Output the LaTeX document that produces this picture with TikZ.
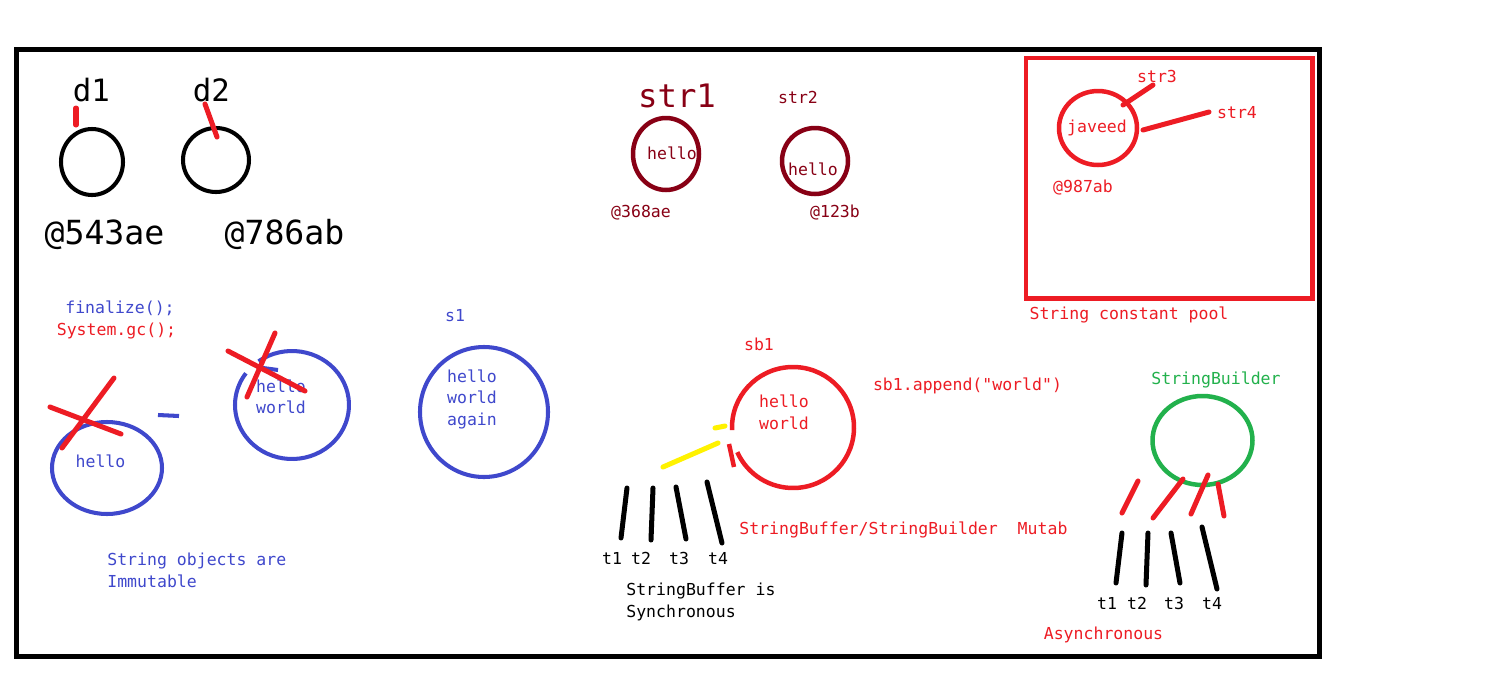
\documentclass[tikz,border=0pt]{standalone}
\usepackage{fontspec}
\setmonofont{DejaVu Sans Mono}
\usepackage{tikz}
\usetikzlibrary{calc}
\definecolor{PaintRed}{RGB}{237, 28, 36}
\definecolor{PaintDarkRed}{RGB}{136, 0, 21}
\definecolor{PaintBlue}{RGB}{63, 72, 204}
\definecolor{PaintGreen}{RGB}{34, 177, 76}
\definecolor{PaintYellow}{RGB}{255, 242, 0}
\tikzset{
  lbl/.style={font=\ttfamily\fontsize{9.4}{12.2}\selectfont, inner sep=0pt,
    anchor=base},
  leftlbl/.style={lbl, anchor=base west},
  biglbl/.style={font=\ttfamily\fontsize{18.9}{22}\selectfont, inner sep=0pt,
    anchor=base},
  ring/.style={line width=2.56pt},
  thinring/.style={line width=2.3pt},
  stroke/.style={line width=2.85pt, line cap=round},
}
\begin{document}
\begin{tikzpicture}[x=0.02cm, y=-0.02cm]
  \useasboundingbox (0,0) rectangle (1499,694);
  \fill[white] (0,0) rectangle (1499,694);
  % outer frame
  \draw[line width=2.85pt] (16.5,49.5) rectangle (1319.5,656.5);

  % d1 and d2
  \coordinate (d1obj) at (92,162);
  \coordinate (d2obj) at (216,160);
  \draw[thinring] (d1obj) ellipse [x radius=31, y radius=33];
  \draw[thinring] (d2obj) ellipse [x radius=33, y radius=32];
  \node[biglbl, font=\ttfamily\fontsize{17.5}{20}\selectfont] (d1) at (91.5,101) {d1};
  \node[biglbl, font=\ttfamily\fontsize{17.5}{20}\selectfont] (d2) at (211.5,101) {d2};
  \draw[stroke, PaintRed] (76,108) -- (76,125);
  \draw[stroke, PaintRed] (205,104) -- (217,137);
  \node[biglbl] (addr1) at (104.5,244) {@543ae};
  \node[biglbl] (addr2) at (284.5,244) {@786ab};

  % str1 and str2
  \coordinate (str1obj) at (666,154);
  \coordinate (str2obj) at (815,161);
  \draw[ring, PaintDarkRed] (str1obj) ellipse [x radius=33, y radius=36];
  \draw[ring, PaintDarkRed] (str2obj) ellipse [x radius=33, y radius=33];
  \node[biglbl, PaintDarkRed, font=\ttfamily\fontsize{18.4}{22}\selectfont]
    (str1) at (677,107) {str1};
  \node[lbl, PaintDarkRed] (str2) at (798,103) {str2};
  \node[lbl, PaintDarkRed] (val1) at (672,159) {hello};
  \node[lbl, PaintDarkRed] (val2) at (813,175) {hello};
  \node[lbl, PaintDarkRed] (addr3) at (641,217) {@368ae};
  \node[lbl, PaintDarkRed] (addr4) at (835,217) {@123b};

  % string constant pool
  \draw[PaintRed, line width=2.56pt] (1026,58) rectangle (1312.5,298.5);
  \coordinate (poolobj) at (1098,128);
  \draw[ring, PaintRed] (poolobj) ellipse [x radius=39, y radius=37];
  \node[lbl, PaintRed] (val3) at (1097,132) {javeed};
  \node[lbl, PaintRed] (str3) at (1157,82) {str3};
  \node[lbl, PaintRed] (str4) at (1237,118) {str4};
  \draw[stroke, PaintRed] (1153,85) -- (1123,105);
  \draw[stroke, PaintRed] (1209,112) -- (1143,130);
  \node[lbl, PaintRed] (addr5) at (1083,192) {@987ab};
  \node[lbl, PaintRed] (pool) at (1129,319) {String constant pool};

  % immutable strings
  \node[lbl, PaintBlue] (fin) at (120,313) {finalize();};
  \node[lbl, PaintRed] (gc) at (116.5,335) {System.gc();};
  \coordinate (hobj) at (107,468);
  \coordinate (hwobj) at (292,405);
  \coordinate (hwaobj) at (484,412);
  \draw[thinring, PaintBlue] (hobj) ellipse [x radius=55, y radius=46];
  \draw[thinring, PaintBlue] ($(hwobj)+(234:57 and 54)$)
    arc [start angle=234, end angle=576, x radius=57, y radius=54];
  \draw[thinring, PaintBlue] (263,368) -- (278,370);
  \draw[thinring, PaintBlue] (hwaobj) ellipse [x radius=64, y radius=65];
  \draw[thinring, PaintBlue] (158,415) -- (179,416);
  \node[lbl, PaintBlue] (hval) at (100.5,467) {hello};
  \node[lbl, PaintBlue] (hwval1) at (281,392) {hello};
  \node[lbl, PaintBlue] (hwval2) at (281,413) {world};
  \node[lbl, PaintBlue] (s1) at (455,321) {s1};
  \node[lbl, PaintBlue] (hwaval1) at (472,382) {hello};
  \node[lbl, PaintBlue] (hwaval2) at (472,403) {world};
  \node[lbl, PaintBlue] (hwaval3) at (472,425) {again};
  \draw[stroke, PaintRed] (50,407) -- (121,434);
  \draw[stroke, PaintRed] (114,378) -- (62,448);
  \draw[stroke, PaintRed] (228,351) -- (305,391);
  \draw[stroke, PaintRed] (275,333) -- (247,397);
  \node[leftlbl, PaintBlue] (imm1) at (107,565) {String objects are};
  \node[leftlbl, PaintBlue] (imm2) at (107,587) {Immutable};

  % StringBuffer
  \coordinate (sbobj) at (793,427.5);
  \draw[ring, PaintRed] ($(sbobj)+(177.6:61 and 60.5)$)
    arc [start angle=177.6, end angle=516, x radius=61, y radius=60.5];
  \draw[ring, PaintRed] (729,444) -- (734,467);
  \node[lbl, PaintRed] (sb1) at (759,350) {sb1};
  \node[lbl, PaintRed] (sbval1) at (784,407) {hello};
  \node[lbl, PaintRed] (sbval2) at (784,429) {world};
  \node[lbl, PaintRed] (append) at (967.5,390) {sb1.append("world")};
  \draw[stroke, PaintYellow] (663,467) -- (718,443);
  \draw[stroke, PaintYellow] (715,428) -- (725,426);
  \foreach \xa/\ya/\xb/\yb in {627/488/621/538, 653/488/651/540,
                              676/487/686/539, 707/482/722/543}
    \draw[stroke] (\xa,\ya) -- (\xb,\yb);
  \foreach \x [count=\i] in {612, 641, 679, 718}
    \node[lbl] (bt\i) at (\x,564) {t\i};
  \node[leftlbl, PaintRed] (mut) at (739,534) {StringBuffer/StringBuilder\ \ Mutab};
  \node[leftlbl] (sync1) at (626,595) {StringBuffer is};
  \node[leftlbl] (sync2) at (626,617) {Synchronous};

  % StringBuilder
  \coordinate (sbdobj) at (1202.5,440.5);
  \draw[ring, PaintGreen] (sbdobj) ellipse [x radius=50, y radius=44.5];
  \node[lbl, PaintGreen] (sbd) at (1216,384) {StringBuilder};
  \foreach \xa/\ya/\xb/\yb in {1138/481/1122/513, 1183/479/1153/518,
                              1208/475/1191/514, 1218/484/1224/516}
    \draw[stroke, PaintRed] (\xa,\ya) -- (\xb,\yb);
  \foreach \xa/\ya/\xb/\yb in {1122/533/1116/583, 1148/533/1146/585,
                              1171/533/1180/583, 1202/527/1217/589}
    \draw[stroke] (\xa,\ya) -- (\xb,\yb);
  \foreach \x [count=\i] in {1107, 1137, 1174, 1212}
    \node[lbl] (at\i) at (\x,609) {t\i};
  \node[lbl, PaintRed] (async) at (1103.5,639) {Asynchronous};
\end{tikzpicture}
\end{document}
